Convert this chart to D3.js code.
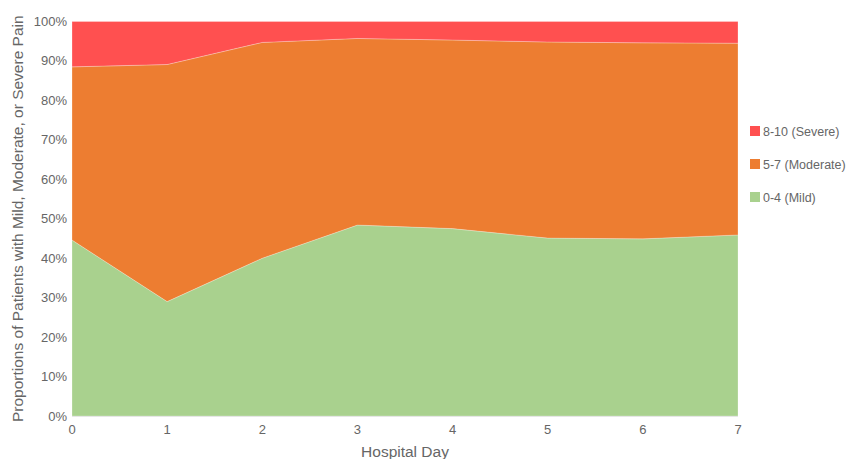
<!DOCTYPE html>
<html>
<head>
<meta charset="utf-8">
<script src="https://cdn.jsdelivr.net/npm/d3@7"></script>
<style>
  body { margin: 0; background: #fff; }
  text { font-family: "Liberation Sans", Arial, sans-serif; fill: #666; }
</style>
</head>
<body>
<svg id="chart" width="848" height="459"></svg>
<script>
// values (percent of patients)
var days = [0, 1, 2, 3, 4, 5, 6, 7]
var mild = [44.6, 29.0, 40.0, 48.4, 47.5, 45.1, 44.9, 45.9]
var moderate = [43.9, 60.1, 54.7, 47.3, 47.8, 49.7, 49.7, 48.6]
var severe = [11.5, 10.9, 5.3, 4.3, 4.7, 5.2, 5.4, 5.5]
var seriesNames = ["0-4 (Mild)", "5-7 (Moderate)", "8-10 (Severe)"]
var colors = ["#a9d18e", "#ed7d31", "#ff5050"]
var yTicks = [0, 10, 20, 30, 40, 50, 60, 70, 80, 90, 100]

var svg = d3.select("#chart")
var plotL = 72, plotR = 738, plotT = 21.5, plotB = 416

var x = d3.scaleLinear().domain([0, 7]).range([plotL, plotR])
var y = d3.scaleLinear().domain([0, 100]).range([plotB, plotT])

var rows = days.map(function(d, i) {
    return { day: d, mild: mild[i], moderate: moderate[i], severe: severe[i] }
})
var stack = d3.stack().keys(["mild", "moderate", "severe"])
var layers = stack(rows)

var area = d3.area()
    .x(function(d) { return x(d.data.day) })
    .y0(function(d) { return y(d[0]) })
    .y1(function(d) { return y(d[1]) })

svg.selectAll(".layer")
    .data(layers)
    .enter().append("path")
    .attr("class", "layer")
    .attr("d", area)
    .attr("fill", function(d, i) { return colors[i] })
    .attr("stroke", "#fff")
    .attr("stroke-opacity", 0.25)
    .attr("stroke-width", 1)

// bottom baseline
svg.append("line")
    .attr("x1", plotL).attr("x2", plotR)
    .attr("y1", plotB + 0.5).attr("y2", plotB + 0.5)
    .attr("stroke", "#e6e6e6")

// y axis labels
svg.selectAll(".ytick")
    .data(yTicks)
    .enter().append("text")
    .attr("x", plotL - 5)
    .attr("y", function(d) { return y(d) + 4.5 })
    .attr("text-anchor", "end")
    .attr("font-size", 13)
    .text(function(d) { return d + "%" })

// x axis labels
svg.selectAll(".xtick")
    .data(days)
    .enter().append("text")
    .attr("x", function(d) { return x(d) })
    .attr("y", 434)
    .attr("text-anchor", "middle")
    .attr("font-size", 13)
    .text(function(d) { return d })

svg.append("text")
    .attr("x", (plotL + plotR) / 2)
    .attr("y", 457)
    .attr("text-anchor", "middle")
    .attr("font-size", 15.5)
    .text("Hospital Day")

svg.append("text")
    .attr("transform", "translate(23," + ((plotT + plotB) / 2) + ") rotate(-90)")
    .attr("text-anchor", "middle")
    .attr("font-size", 15.5)
    .text("Proportions of Patients with Mild, Moderate, or Severe Pain")

// legend, severe on top
var legendOrder = [2, 1, 0]
var legend = svg.selectAll(".leg")
    .data(legendOrder)
    .enter().append("g")
    .attr("transform", function(d, i) { return "translate(750," + (126 + i * 33) + ")" })

legend.append("rect")
    .attr("width", 10).attr("height", 10)
    .attr("fill", function(d) { return colors[d] })

legend.append("text")
    .attr("x", 13)
    .attr("y", 9.5)
    .attr("font-size", 12.5)
    .text(function(d) { return seriesNames[d] })
</script>
</body>
</html>
